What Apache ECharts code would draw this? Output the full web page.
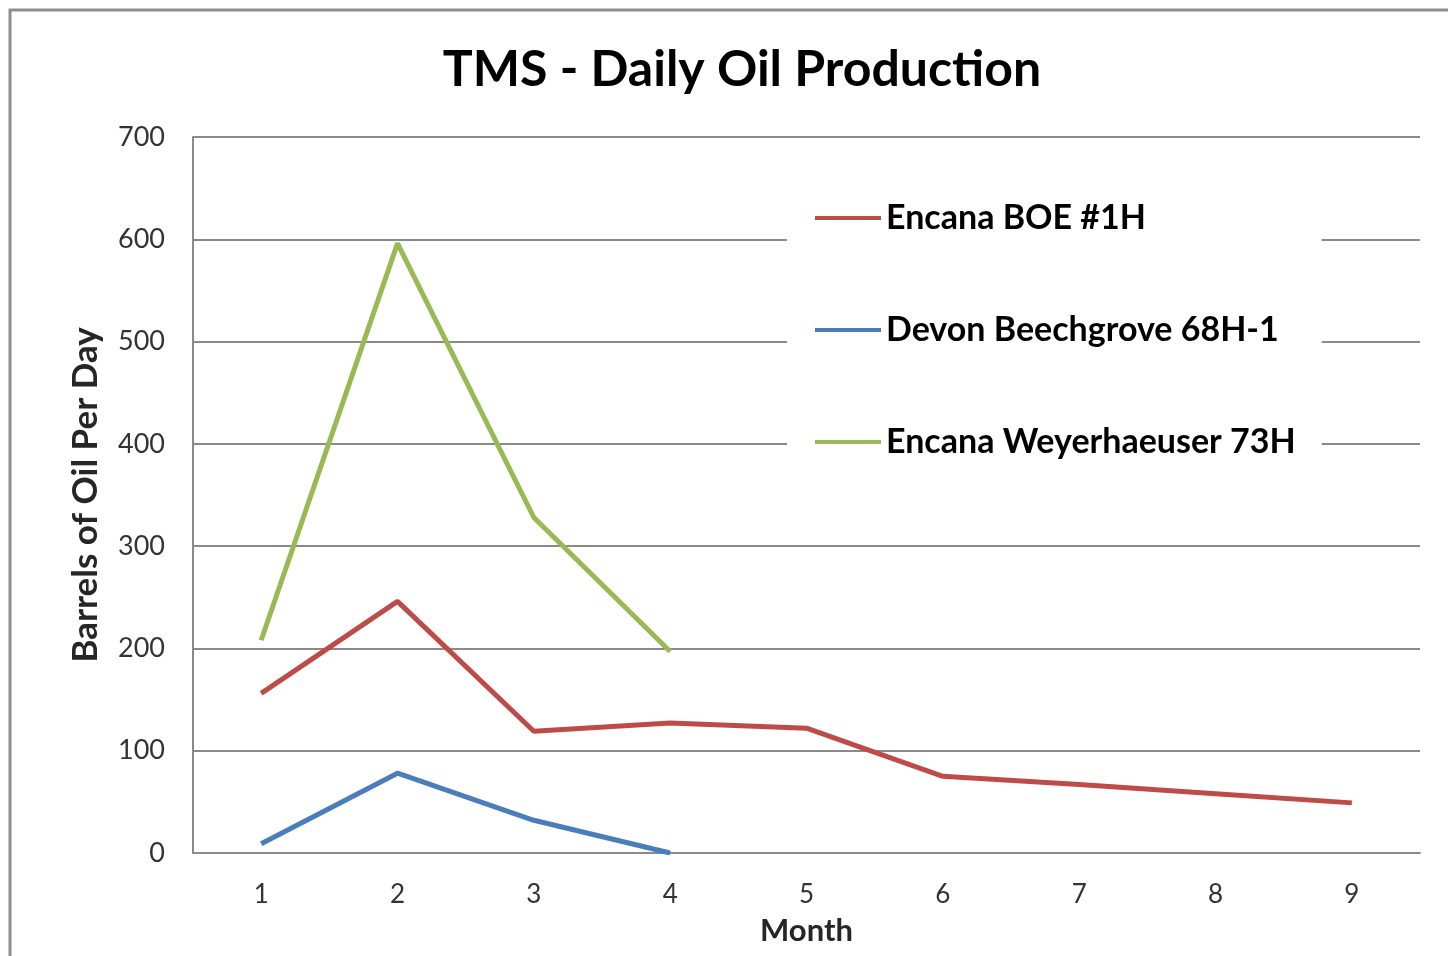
<!DOCTYPE html>
<html>
<head>
<meta charset="utf-8">
<script src="https://cdn.jsdelivr.net/npm/echarts@6.0.0/dist/echarts.min.js"></script>
<style>
  html, body { margin: 0; padding: 0; background: #fff; }
  #chart { width: 1448px; height: 956px; }
</style>
</head>
<body>
<div id="chart"></div>
<script>
// month categories
const months = ["1", "2", "3", "4", "5", "6", "7", "8", "9"];

// barrels of oil per day
const encanaBoe = [156, 246, 119, 127, 122, 75, 67, 58, 49];
const devonBeechgrove = [9, 78, 32, 0];
const encanaWeyerhaeuser = [208, 596, 328, 197];

const seriesNames = ["Encana BOE #1H", "Devon Beechgrove 68H-1", "Encana Weyerhaeuser 73H"];
const seriesColors = ["#BE4B48", "#4A7EBB", "#98B954"];

const font = "Lato, 'Open Sans', sans-serif";

const chart = echarts.init(document.getElementById("chart"), null, { renderer: "canvas" });

const lineSeries = (name, data, color) => ({
  name,
  type: "line",
  data,
  showSymbol: false,
  symbol: "none",
  lineStyle: { color, width: 5 },
  itemStyle: { color },
  z: 3,
});

chart.setOption({
  animation: false,
  backgroundColor: "#fff",
  title: {
    text: "TMS - Daily Oil Production",
    left: 737,
    top: 40,
    textAlign: "center",
    textStyle: { fontFamily: font, fontSize: 50, fontWeight: "bold", color: "#000" },
  },
  graphic: [
    {
      type: "polyline",
      shape: { points: [[10, 956], [10, 10], [1448, 10]] },
      style: { stroke: "#8f8f8f", lineWidth: 3, fill: null },
      z: 10,
    },
  ],
  legend: {
    orient: "vertical",
    left: 787,
    top: 192,
    padding: [6, 26, 6, 28],
    backgroundColor: "#fff",
    itemWidth: 66,
    itemHeight: 4,
    itemGap: 72,
    icon: "rect",
    data: seriesNames,
    textStyle: {
      fontFamily: font,
      fontSize: 34,
      fontWeight: "bold",
      color: "#000",
      lineHeight: 40,
    },
    z: 5,
  },
  grid: { left: 193, right: 28, top: 137, bottom: 103, containLabel: false },
  xAxis: {
    type: "category",
    data: months,
    boundaryGap: true,
    name: "Month",
    nameLocation: "middle",
    nameGap: 62,
    nameTextStyle: { fontFamily: font, fontSize: 31, fontWeight: "bold", color: "#262626" },
    axisLine: { lineStyle: { color: "#8a8a8a", width: 2 } },
    axisTick: { show: false },
    axisLabel: { fontFamily: font, fontSize: 26, color: "#333", margin: 29 },
    splitLine: { show: false },
  },
  yAxis: {
    type: "value",
    min: 0,
    max: 700,
    interval: 100,
    name: "Barrels of Oil Per Day",
    nameLocation: "middle",
    nameGap: 90,
    nameTextStyle: { fontFamily: font, fontSize: 35, fontWeight: "bold", color: "#262626" },
    axisLine: { show: true, lineStyle: { color: "#8a8a8a", width: 2 } },
    axisTick: { show: false },
    axisLabel: { fontFamily: font, fontSize: 27, color: "#333", margin: 28 },
    splitLine: { lineStyle: { color: "#8a8a8a", width: 2 } },
  },
  series: [
    lineSeries(seriesNames[0], encanaBoe, seriesColors[0]),
    lineSeries(seriesNames[1], devonBeechgrove, seriesColors[1]),
    lineSeries(seriesNames[2], encanaWeyerhaeuser, seriesColors[2]),
  ],
});

window.addEventListener("resize", chart.resize);
</script>
</body>
</html>
